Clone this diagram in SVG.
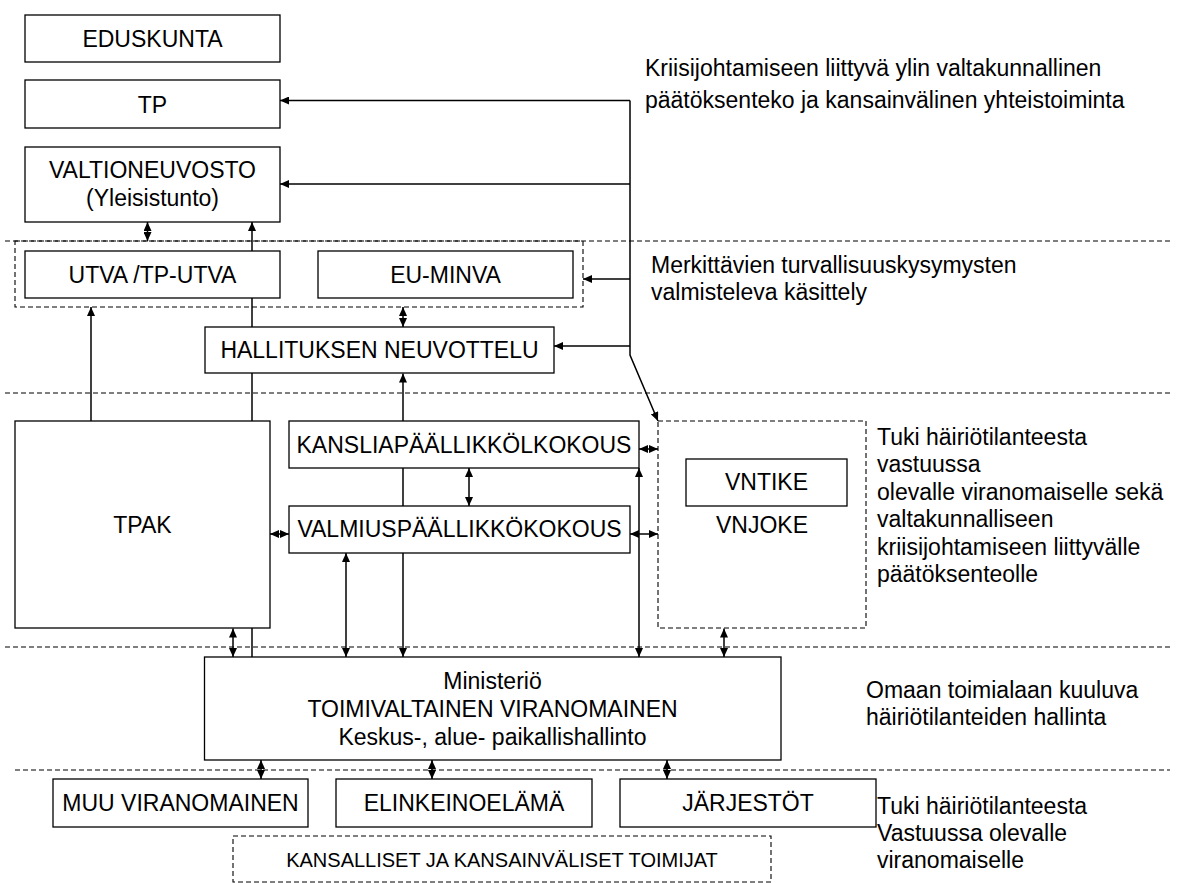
<svg xmlns="http://www.w3.org/2000/svg" width="1183" height="883" viewBox="0 0 1183 883">
<style>
.bx{fill:#fff;stroke:#000;stroke-width:1.3}
.db{fill:none;stroke:#000;stroke-width:1.1;stroke-dasharray:5 3}
.dl{fill:none;stroke:#000;stroke-width:1.1;stroke-dasharray:5 3}
.c{fill:none;stroke:#000;stroke-width:1.5}
.t{font-family:"Liberation Sans",Arial,sans-serif;font-size:23px;fill:#000;text-anchor:middle}
.r{font-family:"Liberation Sans",Arial,sans-serif;font-size:23px;fill:#000}
.s{font-family:"Liberation Sans",Arial,sans-serif;font-size:20px;fill:#000;text-anchor:middle}
</style>
<defs>
<marker id="ah" viewBox="0 0 9 8" refX="9" refY="4" markerWidth="9" markerHeight="8" markerUnits="userSpaceOnUse" orient="auto-start-reverse"><path d="M0,0 L9,4 L0,8 z" fill="#000"/></marker>
</defs>
<g id="separators">
<line class="dl" x1="5" y1="241" x2="1170" y2="241"/>
<line class="dl" x1="5" y1="393" x2="1170" y2="393"/>
<line class="dl" x1="5" y1="647" x2="1170" y2="647"/>
<line class="dl" x1="15" y1="770" x2="1170" y2="770"/>
</g>
<g id="group-utva-eu"><rect class="db" x="15" y="241" width="568" height="66"/></g>
<g id="vnjoke"><rect class="db" x="658" y="421" width="208" height="207"/><text class="t" x="762" y="533">VNJOKE</text></g>
<g id="kansalliset"><rect class="db" x="233" y="836" width="538" height="46"/><text class="s" x="502" y="867">KANSALLISET JA KANSAINVÄLISET TOIMIJAT</text></g>
<g id="connectors">
<path class="c" d="M147.5,222 V241" marker-start="url(#ah)" marker-end="url(#ah)"/>
<path class="c" d="M252,657 V222" marker-end="url(#ah)"/>
<path class="c" d="M91,421 V307" marker-end="url(#ah)"/>
<path class="c" d="M403,307 V327" marker-start="url(#ah)" marker-end="url(#ah)"/>
<path class="c" d="M403,657 V373.5" marker-start="url(#ah)" marker-end="url(#ah)"/>
<path class="c" d="M469,468 V506" marker-start="url(#ah)" marker-end="url(#ah)"/>
<path class="c" d="M270,534 H289" marker-start="url(#ah)" marker-end="url(#ah)"/>
<path class="c" d="M639,449 H658" marker-start="url(#ah)" marker-end="url(#ah)"/>
<path class="c" d="M630,534 H658" marker-start="url(#ah)" marker-end="url(#ah)"/>
<path class="c" d="M639,468 V657" marker-start="url(#ah)" marker-end="url(#ah)"/>
<path class="c" d="M346,553 V657" marker-start="url(#ah)" marker-end="url(#ah)"/>
<path class="c" d="M233,628.5 V657" marker-start="url(#ah)" marker-end="url(#ah)"/>
<path class="c" d="M724,628.5 V657" marker-start="url(#ah)" marker-end="url(#ah)"/>
<path class="c" d="M630,100.5 V355 L658,421" marker-end="url(#ah)"/>
<path class="c" d="M630,100.5 H280" marker-end="url(#ah)"/>
<path class="c" d="M630,184 H280" marker-end="url(#ah)"/>
<path class="c" d="M630,279 H583" marker-end="url(#ah)"/>
<path class="c" d="M630,346 H554" marker-end="url(#ah)"/>
<path class="c" d="M261,760 V779" marker-start="url(#ah)" marker-end="url(#ah)"/>
<path class="c" d="M432,760 V779" marker-start="url(#ah)" marker-end="url(#ah)"/>
<path class="c" d="M667,760 V779" marker-start="url(#ah)" marker-end="url(#ah)"/>
</g>
<g id="eduskunta"><rect class="bx" x="25" y="15" width="255" height="47"/><text class="t" x="152.5" y="47">EDUSKUNTA</text></g>
<g id="tp"><rect class="bx" x="25" y="80" width="255" height="48"/><text class="t" x="152.5" y="113">TP</text></g>
<g id="valtioneuvosto"><rect class="bx" x="25" y="147" width="255" height="75"/><text class="t" x="152.5" y="178">VALTIONEUVOSTO</text><text class="t" x="152.5" y="206">(Yleisistunto)</text></g>
<g id="utva"><rect class="bx" x="25" y="251" width="255" height="47"/><text class="t" x="152.5" y="283">UTVA /TP-UTVA</text></g>
<g id="eu-minva"><rect class="bx" x="318" y="251" width="255" height="47"/><text class="t" x="445.5" y="283">EU-MINVA</text></g>
<g id="hallituksen-neuvottelu"><rect class="bx" x="205" y="327" width="349" height="46"/><text class="t" x="379.5" y="358">HALLITUKSEN NEUVOTTELU</text></g>
<g id="tpak"><rect class="bx" x="15" y="421" width="255" height="207"/><text class="t" x="142.5" y="533">TPAK</text></g>
<g id="kansliapaallikko"><rect class="bx" x="289" y="421" width="350" height="47"/><text class="t" x="464" y="453">KANSLIAPÄÄLLIKKÖLKOKOUS</text></g>
<g id="valmiuspaallikko"><rect class="bx" x="289" y="506" width="341" height="47"/><text class="t" x="459.5" y="537">VALMIUSPÄÄLLIKKÖKOKOUS</text></g>
<g id="vntike"><rect class="bx" x="686" y="459" width="161" height="47"/><text class="t" x="766.5" y="490">VNTIKE</text></g>
<g id="ministerio"><rect class="bx" x="204.5" y="657" width="576.5" height="103"/><text class="t" x="492.5" y="689">Ministeriö</text><text class="t" x="492.5" y="717">TOIMIVALTAINEN VIRANOMAINEN</text><text class="t" x="492.5" y="745">Keskus-, alue- paikallishallinto</text></g>
<g id="muu-viranomainen"><rect class="bx" x="53" y="779" width="255" height="48"/><text class="t" x="180.5" y="811">MUU VIRANOMAINEN</text></g>
<g id="elinkeinoelama"><rect class="bx" x="336" y="779" width="256" height="48"/><text class="t" x="464" y="811">ELINKEINOELÄMÄ</text></g>
<g id="jarjestot"><rect class="bx" x="620" y="779" width="256" height="48"/><text class="t" x="748" y="811">JÄRJESTÖT</text></g>
<g id="labels">
<text class="r" x="645" y="76">Kriisijohtamiseen liittyvä ylin valtakunnallinen</text>
<text class="r" x="645" y="108">päätöksenteko ja kansainvälinen yhteistoiminta</text>
<text class="r" x="651" y="273">Merkittävien turvallisuuskysymysten</text>
<text class="r" x="651" y="300">valmisteleva käsittely</text>
<text class="r" x="877" y="445">Tuki häiriötilanteesta</text>
<text class="r" x="877" y="472">vastuussa</text>
<text class="r" x="877" y="500">olevalle viranomaiselle sekä</text>
<text class="r" x="877" y="527">valtakunnalliseen</text>
<text class="r" x="877" y="555">kriisijohtamiseen liittyvälle</text>
<text class="r" x="877" y="582">päätöksenteolle</text>
<text class="r" x="866" y="698">Omaan toimialaan kuuluva</text>
<text class="r" x="866" y="725">häiriötilanteiden hallinta</text>
<text class="r" x="877" y="814">Tuki häiriötilanteesta</text>
<text class="r" x="877" y="841">Vastuussa olevalle</text>
<text class="r" x="877" y="868">viranomaiselle</text>
</g>
</svg>
